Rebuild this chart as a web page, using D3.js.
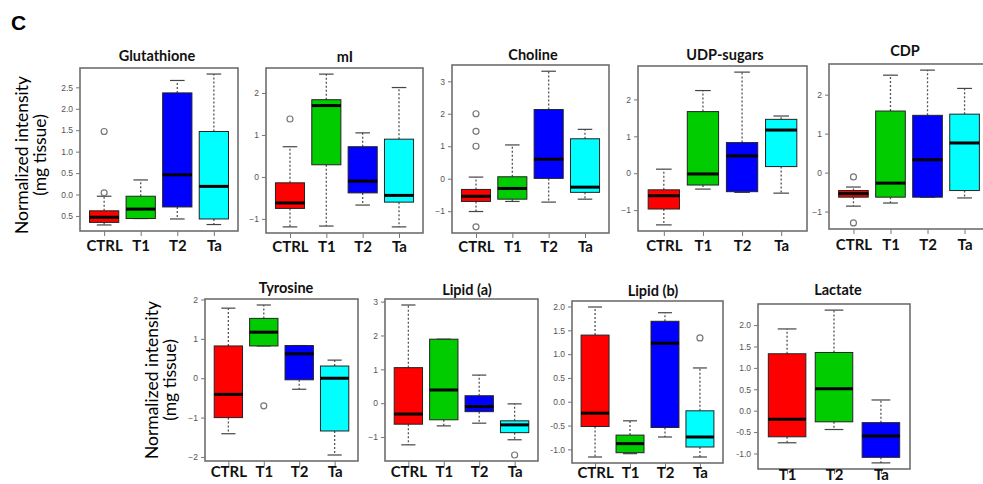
<!DOCTYPE html>
<html>
<head>
<meta charset="utf-8">
<script src="https://cdn.jsdelivr.net/npm/d3@7"></script>
<style>
  body { margin: 0; background: #fff; }
  svg { display: block; }
</style>
</head>
<body>
<svg id="chart" width="983" height="484"></svg>
<script>
// ---- groups ----
const groups4 = ["CTRL", "T1", "T2", "Ta"];
const groups3 = ["T1", "T2", "Ta"];
const colors4 = ["#ff0000", "#00cc00", "#0000ff", "#00ffff"];
const colors3 = ["#ff0000", "#00cc00", "#0000ff"];

// ---- box statistics: [lower whisker, Q1, median, Q3, upper whisker] per group ----
// outliers: [group index, value]
const glutathione = [[-0.71, -0.65, -0.53, -0.38, -0.04], [-0.56, -0.56, -0.34, -0.04, 0.34], [-0.57, -0.29, 0.46, 2.37, 2.66], [-0.70, -0.57, 0.19, 1.47, 2.81]];
const glutathioneOut = [[0, 0.04], [0, 1.47]];
const glutathioneTicks = [-0.5, 0, 0.5, 1, 1.5, 2, 2.5];
const glutathioneTickLabels = ["0.5", "0.0", "0.5", "1.0", "1.5", "2.0", "2.5"];

const mI = [[-1.19, -0.75, -0.62, -0.14, 0.72], [-1.17, 0.29, 1.70, 1.84, 2.45], [-0.67, -0.38, -0.10, 0.72, 1.05], [-1.19, -0.60, -0.44, 0.90, 2.13]];
const mIOut = [[0, 1.38]];
const mITicks = [-1, 0, 1, 2];

const choline = [[-1.01, -0.70, -0.54, -0.33, 0.05], [-0.70, -0.63, -0.30, 0.06, 1.04], [-0.72, 0.01, 0.60, 2.13, 3.31], [-0.63, -0.42, -0.26, 1.23, 1.52]];
const cholineOut = [[0, 2.0], [0, 1.46], [0, 1.0], [0, -1.48]];
const cholineTicks = [-1, 0, 1, 2, 3];

const udpSugars = [[-1.40, -0.97, -0.61, -0.45, 0.11], [-0.43, -0.32, -0.02, 1.67, 2.24], [-0.52, -0.50, 0.47, 0.83, 2.74], [-0.54, 0.18, 1.17, 1.46, 1.55]];
const udpSugarsOut = [];
const udpSugarsTicks = [-1, 0, 1, 2];

const cdp = [[-0.86, -0.63, -0.54, -0.46, -0.37], [-0.78, -0.63, -0.27, 1.58, 2.50], [-0.63, -0.63, 0.33, 1.47, 2.63], [-0.65, -0.46, 0.76, 1.50, 2.16]];
const cdpOut = [[0, -0.11], [0, -1.29]];
const cdpTicks = [-1, 0, 1, 2];

const tyrosine = [[-1.41, -1.00, -0.41, 0.82, 1.78], [0.82, 0.82, 1.17, 1.52, 1.86], [-0.28, -0.04, 0.62, 0.83, 0.83], [-1.95, -1.34, 0.00, 0.31, 0.46]];
const tyrosineOut = [[1, -0.70]];
const tyrosineTicks = [-2, -1, 0, 1, 2];

const lipidA = [[-1.23, -0.62, -0.32, 1.05, 2.90], [-0.67, -0.49, 0.39, 1.89, 1.89], [-0.59, -0.25, -0.10, 0.22, 0.83], [-1.08, -0.87, -0.64, -0.52, -0.02]];
const lipidAOut = [[3, -1.53]];
const lipidATicks = [-1, 0, 1, 2, 3];

const lipidB = [[-1.16, -0.52, -0.24, 1.40, 1.99], [-1.09, -1.07, -0.88, -0.70, -0.40], [-0.74, -0.54, 1.23, 1.69, 1.87], [-1.16, -0.95, -0.74, -0.19, 0.71]];
const lipidBOut = [[3, 1.34]];
const halfTicks = [-1, -0.5, 0, 0.5, 1, 1.5, 2];

const lactate = [[-0.75, -0.61, -0.20, 1.33, 1.91], [-0.44, -0.26, 0.51, 1.36, 2.35], [-1.22, -1.09, -0.59, -0.28, 0.25]];
const lactateOut = [];

// ---- panel placement (plot frame in page pixels) ----
const panels = [
  { title: "Glutathione", stats: glutathione, out: glutathioneOut, groups: groups4, colors: colors4, ticks: glutathioneTicks, tickLabels: glutathioneTickLabels,
    frame: [80, 68, 238, 231], titleX: 157, titleY: 61, labelGap: 20 },
  { title: "mI", stats: mI, out: mIOut, groups: groups4, colors: colors4, ticks: mITicks,
    frame: [266, 68, 423, 233], titleX: 345, titleY: 62, labelGap: 19 },
  { title: "Choline", stats: choline, out: cholineOut, groups: groups4, colors: colors4, ticks: cholineTicks,
    frame: [452, 65, 609, 233], titleX: 533, titleY: 60, labelGap: 19 },
  { title: "UDP-sugars", stats: udpSugars, out: udpSugarsOut, groups: groups4, colors: colors4, ticks: udpSugarsTicks,
    frame: [638, 66, 807, 231], titleX: 725, titleY: 60, labelGap: 20 },
  { title: "CDP", stats: cdp, out: cdpOut, groups: groups4, colors: colors4, ticks: cdpTicks,
    frame: [829, 64, 989, 229], titleX: 905, titleY: 56, labelGap: 21 },
  { title: "Tyrosine", stats: tyrosine, out: tyrosineOut, groups: groups4, colors: colors4, ticks: tyrosineTicks,
    frame: [205, 299, 358, 461], titleX: 286, titleY: 293, labelGap: 16 },
  { title: "Lipid (a)", stats: lipidA, out: lipidAOut, groups: groups4, colors: colors4, ticks: lipidATicks,
    frame: [385, 299, 538, 461], titleX: 467, titleY: 295, labelGap: 16 },
  { title: "Lipid (b)", stats: lipidB, out: lipidBOut, groups: groups4, colors: colors4, ticks: halfTicks,
    tickLabels: halfTicks.map(d => d.toFixed(1)),
    frame: [572, 301, 723, 463], titleX: 653, titleY: 296, labelGap: 15 },
  { title: "Lactate", stats: lactate, out: lactateOut, groups: groups3, colors: colors3, ticks: halfTicks,
    tickLabels: halfTicks.map(d => d.toFixed(1)),
    frame: [758, 304, 910, 469], titleX: 838, titleY: 295, labelGap: 11 }
];

const svg = d3.select("#chart");
const FONT = "Lato, 'Open Sans', 'DejaVu Sans', sans-serif";
const TICKFONT = "'Liberation Sans', Arial, sans-serif";

// panel letter
svg.append("text")
  .attr("x", 11).attr("y", 30)
  .attr("font-family", "'Liberation Sans', Arial, sans-serif")
  .attr("font-weight", "bold").attr("font-size", 21)
  .attr("fill", "#000").text("C");

// shared y-axis titles for both rows
function yTitle(cx, cy) {
  const g = svg.append("g").attr("transform", `translate(${cx},${cy}) rotate(-90)`);
  g.append("text").attr("x", 0).attr("y", 0).attr("text-anchor", "middle")
    .attr("font-family", FONT).attr("font-size", 17.5).attr("fill", "#000")
    .text("Normalized intensity");
  g.append("text").attr("x", 0).attr("y", 18).attr("text-anchor", "middle")
    .attr("font-family", FONT).attr("font-size", 17.5).attr("fill", "#000")
    .text("(mg tissue)");
}
yTitle(28, 155);
yTitle(158, 380);

function drawPanel(p) {
  const [x0, y0, x1, y1] = p.frame;
  const n = p.groups.length;

  // y range padded 4% beyond the data, like base-R boxplots
  const allVals = p.stats.flat().concat(p.out.map(o => o[1]));
  const lo = d3.min(allVals), hi = d3.max(allVals), pad = (hi - lo) * 0.04;
  const y = d3.scaleLinear().domain([lo - pad, hi + pad]).range([y1, y0]);
  const x = d3.scalePoint().domain(p.groups).range([x0, x1]).padding(0.5 + 0.04 * n);
  const bw = x.step() * 0.8;

  const g = svg.append("g");

  // frame
  g.append("rect")
    .attr("x", x0).attr("y", y0).attr("width", x1 - x0).attr("height", y1 - y0)
    .attr("fill", "none").attr("stroke", "#6e6e6e").attr("stroke-width", 1.6);

  // y axis
  const yAxis = d3.axisLeft(y).tickValues(p.ticks).tickSize(4).tickPadding(3)
    .tickFormat((d, i) => p.tickLabels ? p.tickLabels[i] : d3.format("d")(d));
  const ya = g.append("g").attr("transform", `translate(${x0},0)`).call(yAxis);
  ya.select(".domain").remove();
  ya.selectAll(".tick line").attr("stroke", "#777");
  ya.selectAll(".tick text").attr("font-family", TICKFONT).attr("font-size", 8.5).attr("fill", "#555");

  // x axis
  const xAxis = d3.axisBottom(x).tickSize(5).tickPadding(p.labelGap - 15.5);
  const xa = g.append("g").attr("transform", `translate(0,${y1})`).call(xAxis);
  xa.select(".domain").remove();
  xa.selectAll(".tick line").attr("stroke", "#777");
  xa.selectAll(".tick text").attr("font-family", FONT).attr("font-weight", "bold")
    .attr("font-size", 15).attr("fill", "#111");

  // title
  g.append("text")
    .attr("x", p.titleX).attr("y", p.titleY)
    .attr("text-anchor", "middle").attr("font-family", FONT)
    .attr("font-weight", "bold").attr("font-size", 14.5).attr("fill", "#111")
    .text(p.title);

  const boxes = g.selectAll("g.box").data(p.stats).join("g").attr("class", "box");
  const cx = (d, i) => x(p.groups[i]);

  // dashed whiskers
  boxes.append("line")
    .attr("x1", cx).attr("x2", cx)
    .attr("y1", d => y(d[3])).attr("y2", d => y(d[4]))
    .attr("stroke", "#555").attr("stroke-width", 1.3).attr("stroke-dasharray", "2,2");
  boxes.append("line")
    .attr("x1", cx).attr("x2", cx)
    .attr("y1", d => y(d[1])).attr("y2", d => y(d[0]))
    .attr("stroke", "#555").attr("stroke-width", 1.3).attr("stroke-dasharray", "2,2");
  // staples
  [0, 4].forEach(k => {
    boxes.append("line")
      .attr("x1", (d, i) => cx(d, i) - bw / 4).attr("x2", (d, i) => cx(d, i) + bw / 4)
      .attr("y1", d => y(d[k])).attr("y2", d => y(d[k]))
      .attr("stroke", "#444").attr("stroke-width", 1.2);
  });
  // box
  boxes.append("rect")
    .attr("x", (d, i) => cx(d, i) - bw / 2).attr("width", bw)
    .attr("y", d => y(d[3])).attr("height", d => Math.max(0.5, y(d[1]) - y(d[3])))
    .attr("fill", (d, i) => p.colors[i]).attr("stroke", "#222").attr("stroke-width", 1);
  // median
  boxes.append("line")
    .attr("x1", (d, i) => cx(d, i) - bw / 2).attr("x2", (d, i) => cx(d, i) + bw / 2)
    .attr("y1", d => y(d[2])).attr("y2", d => y(d[2]))
    .attr("stroke", "#000").attr("stroke-width", 3);

  // outliers
  g.selectAll("circle.out").data(p.out).join("circle").attr("class", "out")
    .attr("cx", d => x(p.groups[d[0]])).attr("cy", d => y(d[1])).attr("r", 3)
    .attr("fill", "none").attr("stroke", "#777").attr("stroke-width", 1.2);
}

panels.forEach(drawPanel);
</script>
</body>
</html>
